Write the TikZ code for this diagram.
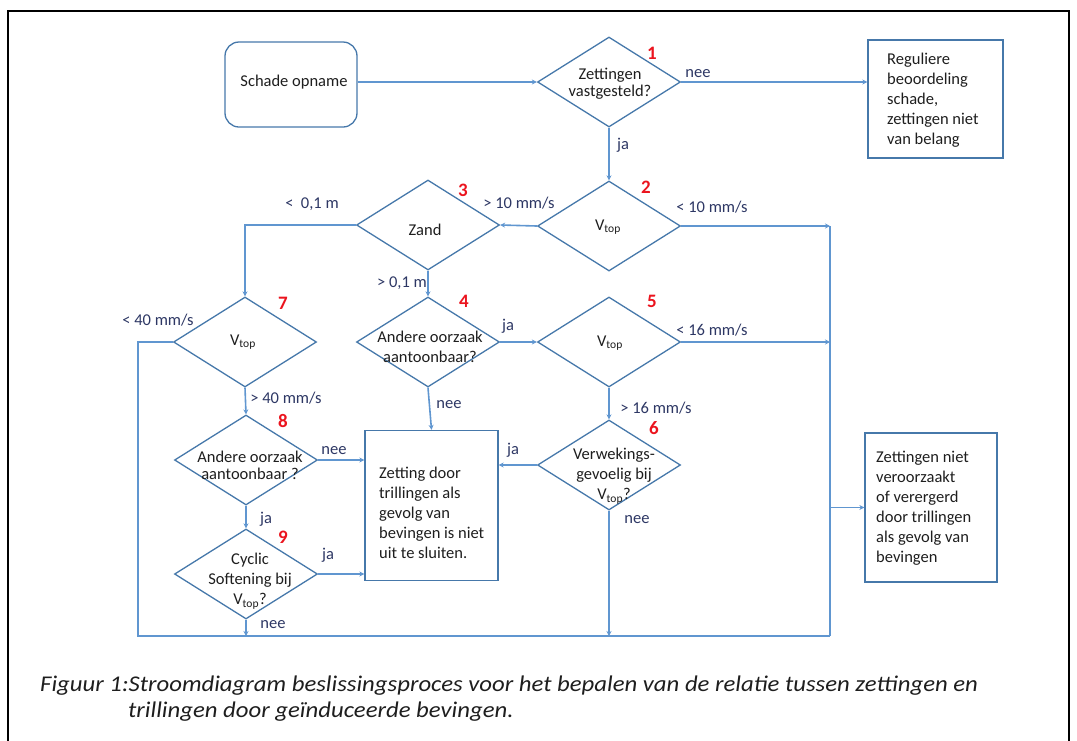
\documentclass[tikz,border=0pt]{standalone}
\usepackage{fontspec}
\setmainfont{Carlito}
\newfontfamily\capfont[FakeStretch=1.1]{Carlito}
\usetikzlibrary{shapes.geometric,arrows.meta}
\definecolor{lineblue}{RGB}{96,150,208}
\definecolor{shapeblue}{RGB}{70,120,170}
\definecolor{lbl}{RGB}{45,55,100}
\definecolor{txt}{RGB}{30,30,30}
\definecolor{numred}{RGB}{235,20,30}
\tikzset{
  dia/.style={diamond, draw=shapeblue, line width=1.3pt, minimum width=143pt, minimum height=90pt, inner sep=0pt},
  boxs/.style={rectangle, draw=shapeblue, line width=1.3pt, inner sep=0pt},
  dtext/.style={text=txt, align=center, font=\fontsize{16.5}{20}\selectfont, inner sep=0pt},
  btext/.style={text=txt, align=left, font=\fontsize{16.5}{20}\selectfont, inner sep=0pt},
  lab/.style={text=lbl, font=\fontsize{16.5}{20}\selectfont, inner sep=0pt},
  num/.style={text=numred, font=\fontsize{19}{20}\selectfont\bfseries, inner sep=0pt},
  conn/.style={draw=lineblue, line width=1.6pt, -{Stealth[length=5pt,width=5pt]}},
  plain/.style={draw=lineblue, line width=1.6pt},
  captext/.style={anchor=west, inner sep=0pt, text=txt, font=\capfont\fontsize{22.5}{26}\selectfont\itshape}
}
\newcommand{\Vtopsym}{V\textsubscript{top}}
\begin{document}
\begin{tikzpicture}[x=1pt,y=-1pt]
\useasboundingbox (0,0) rectangle (1077,740);
\draw[line width=2.2pt] (8,742) -- (8,11) -- (1069,11) -- (1069,742);

% shapes
\node[boxs, rounded corners=14pt, minimum width=132pt, minimum height=85pt] (start) at (291,84.5) {};
\node[dtext] (tstart) at (294,82) {Schade opname};
\node[dia] (d1) at (609,82) {};
\node[dtext, font=\fontsize{16.5}{17}\selectfont] (t1) at (610,84) {Zettingen\\vastgesteld?};
\node[boxs, minimum width=135pt, minimum height=118pt] (r1) at (935.5,99) {};
\node[btext, anchor=west] (tr1) at (887,100) {Reguliere\\beoordeling\\schade,\\zettingen niet\\van belang};
\node[dia] (d2) at (609,226) {};
\node[dtext] (t2) at (608,227) {\Vtopsym};
\node[dia] (d3) at (428,225) {};
\node[dtext] (t3) at (425,230) {Zand};
\node[dia] (d4) at (428,342) {};
\node[dtext] (t4) at (430,347) {Andere oorzaak\\aantoonbaar?};
\node[dia] (d5) at (609,342) {};
\node[dtext] (t5) at (610,343) {\Vtopsym};
\node[dia] (d6) at (609,465) {};
\node[dtext] (t6) at (614,476) {Verwekings-\\gevoelig bij\\\Vtopsym?};
\node[dia] (d7) at (245,342) {};
\node[dtext] (t7) at (243,342) {\Vtopsym};
\node[dia] (d8) at (246,460) {};
\node[dtext, font=\fontsize{16.5}{17}\selectfont] (t8) at (250,465) {Andere oorzaak\\aantoonbaar ?};
\node[dia] (d9) at (246,574) {};
\node[dtext] (t9) at (250,581) {Cyclic\\Softening bij\\\Vtopsym?};
\node[boxs, minimum width=133pt, minimum height=150pt] (zet) at (431.5,505.5) {};
\node[btext, anchor=west] (tzet) at (379,513) {Zetting door\\trillingen als\\gevolg van\\bevingen is niet\\uit te sluiten.};
\node[boxs, minimum width=132pt, minimum height=149pt] (niet) at (931,507.5) {};
\node[btext, anchor=west] (tniet) at (876,508) {Zettingen niet\\veroorzaakt\\of verergerd\\door trillingen\\als gevolg van\\bevingen};

% numbers
\node[num] (n1) at (652,53) {1};
\node[num] (n2) at (646,187) {2};
\node[num] (n3) at (463,190) {3};
\node[num] (n4) at (464,301) {4};
\node[num] (n5) at (652,301) {5};
\node[num] (n6) at (654,428) {6};
\node[num] (n7) at (283,303) {7};
\node[num] (n8) at (283,421) {8};
\node[num] (n9) at (283,537) {9};

% junction coordinates
\coordinate (cR) at (830,226);
\coordinate (cBR) at (830,636);
\coordinate (cBL) at (138,636);

% connectors
\draw[conn] (start.east |- d1.west) -- (d1.west);
\draw[conn] (d1.east) -- (r1.west |- d1.east);
\draw[conn] (d1.south) -- (d2.north);
\draw[conn] (d2.west) -- (d3.east);
\draw[conn] (d2.east) -- (cR);
\draw[plain] (cR) -- (cBR);
\draw[conn] (d5.east) -- (d5.east -| cR);
\draw[conn] (cR |- niet.west) -- (niet.west);
\draw[conn] (d3.west) -| (d7.north);
\draw[conn] (d3.south) -- (d4.north);
\draw[conn] (d4.east) -- (d5.west);
\draw[conn] (d4.south) -- (zet.north);
\draw[conn] (d5.south) -- (d6.north);
\draw[conn] (d6.west) -- (zet.east |- d6.west);
\draw[conn] (d6.south) -- (d6.south |- cBR);
\draw[conn] (d7.south) -- (d8.north);
\draw[plain] (d7.west) -| (cBL) -- (cBR);
\draw[conn] (d8.east) -- (zet.west |- d8.east);
\draw[conn] (d8.south) -- (d9.north);
\draw[conn] (d9.east) -- (zet.west |- d9.east);
\draw[conn] (d9.south) -- (d9.south |- cBL);

% labels
\node[lab] (l1) at (698,74) {nee};
\node[lab] (l2) at (623,145) {ja};
\node[lab] (l3) at (519,203) {> 10 mm/s};
\node[lab] (l4) at (712,207) {< 10 mm/s};
\node[lab] (l5) at (312,204) {<\hspace{0.45em}0,1 m};
\node[lab] (l6) at (402,283) {> 0,1 m};
\node[lab] (l7) at (508,326) {ja};
\node[lab] (l8) at (712,330) {< 16 mm/s};
\node[lab] (l9) at (656,408) {> 16 mm/s};
\node[lab] (l10) at (449,405) {nee};
\node[lab] (l11) at (513,450) {ja};
\node[lab] (l12) at (637,520) {nee};
\node[lab] (l13) at (158,320) {< 40 mm/s};
\node[lab] (l14) at (286,398) {> 40 mm/s};
\node[lab] (l15) at (334,451) {nee};
\node[lab] (l16) at (266,519) {ja};
\node[lab] (l17) at (328,555) {ja};
\node[lab] (l18) at (273,625) {nee};

% caption
\node[captext] (cap1) at (40,686) {Figuur 1:Stroomdiagram beslissingsproces voor het bepalen van de relatie tussen zettingen en};
\node[captext] (cap2) at (128,712) {trillingen door geïnduceerde bevingen.};
\end{tikzpicture}
\end{document}
